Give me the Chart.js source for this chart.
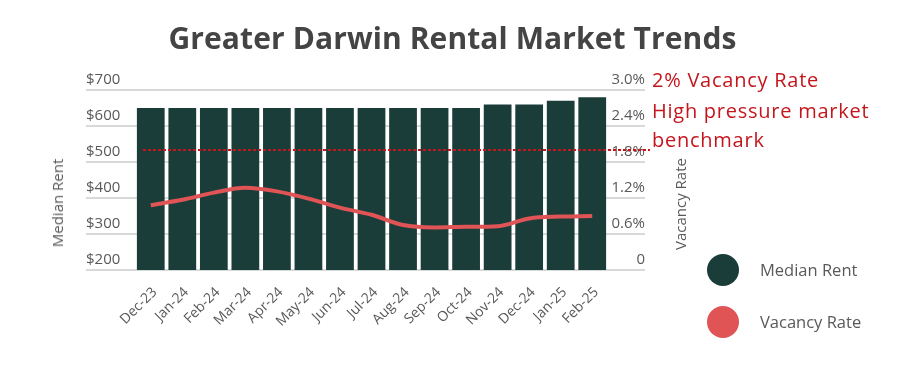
<!DOCTYPE html>
<html>
<head>
<meta charset="utf-8">
<script src="https://cdn.jsdelivr.net/npm/chart.js@4.4.1/dist/chart.umd.min.js"></script>
<style>
  html, body { margin: 0; padding: 0; background: #ffffff; }
  #wrap { position: relative; width: 915px; height: 381px; overflow: hidden; font-family: "Open Sans", sans-serif; }
  #c { position: absolute; left: 0; top: 0; }
  .abs { position: absolute; white-space: nowrap; }
  #title { left: -5px; width: 915px; top: 18px; text-align: center; font-size: 30px; font-weight: 700; color: #444444; line-height: 40px; letter-spacing: 0.1px; }
  .note { left: 652px; font-size: 20px; color: #c4161c; line-height: 28px; font-family: "Open Sans", sans-serif; letter-spacing: 0.75px; }
  .axt { font-size: 15px; color: #595959; line-height: 18px; transform-origin: center center; }
  .leg { font-size: 16.5px; color: #595959; line-height: 22px; }
  .dot { width: 32px; height: 32px; border-radius: 50%; }
</style>
</head>
<body>
<div id="wrap">
  <canvas id="c" width="915" height="381"></canvas>
  <div id="title" class="abs">Greater Darwin Rental Market Trends</div>
  <div class="abs note" style="top:66px">2% Vacancy Rate</div>
  <div class="abs note" style="top:97px">High pressure market</div>
  <div class="abs note" style="top:126px">benchmark</div>
  <div class="abs axt" style="left:57px; top:203px; transform: translate(-50%,-50%) rotate(-90deg);">Median Rent</div>
  <div class="abs axt" style="left:680px; top:204px; transform: translate(-50%,-50%) rotate(-90deg);">Vacancy Rate</div>
  <div class="abs dot" style="left:707px; top:254px; background:#1b3d3a;"></div>
  <div class="abs leg" style="left:760px; top:259px;">Median Rent</div>
  <div class="abs dot" style="left:707px; top:306px; background:#e05456;"></div>
  <div class="abs leg" style="left:760px; top:311px;">Vacancy Rate</div>
</div>
<script>
const months = ['Dec-23','Jan-24','Feb-24','Mar-24','Apr-24','May-24','Jun-24','Jul-24','Aug-24','Sep-24','Oct-24','Nov-24','Dec-24','Jan-25','Feb-25'];
const medianRent = [650,650,650,650,650,650,650,650,650,650,650,660,660,670,680];
const vacancyRate = [1.08,1.17,1.29,1.37,1.31,1.19,1.04,0.92,0.75,0.71,0.72,0.73,0.86,0.89,0.90];
const rentTicks = [200,300,400,500,600,700];
const rentTickLabels = ['$200','$300','$400','$500','$600','$700'];
const vacancyTicks = [0,0.6,1.2,1.8,2.4,3.0];
const vacancyTickLabels = ['0','0.6%','1.2%','1.8%','2.4%','3.0%'];
const benchmarkRate = 2;

const GRID_LEFT = 86, GRID_RIGHT = 645;

const gridPlugin = {
  id: 'gridPlugin',
  beforeDatasetsDraw(chart) {
    const ctx = chart.ctx, y = chart.scales.y;
    ctx.save();
    ctx.strokeStyle = '#d9d9d9';
    ctx.lineWidth = 2;
    rentTicks.forEach(v => {
      const py = Math.round(y.getPixelForValue(v));
      ctx.beginPath();
      ctx.moveTo(GRID_LEFT, py);
      ctx.lineTo(GRID_RIGHT, py);
      ctx.stroke();
    });
    ctx.restore();
  },
  afterDraw(chart) {
    const ctx = chart.ctx, y1 = chart.scales.y1;
    const py = y1.getPixelForValue(benchmarkRate);
    ctx.save();
    ctx.strokeStyle = '#c4161c';
    ctx.lineWidth = 2;
    ctx.setLineDash([3, 2]);
    ctx.beginPath();
    ctx.moveTo(chart.chartArea.left + 8, py);
    ctx.lineTo(650, py);
    ctx.stroke();
    ctx.restore();
  }
};

const tickFont = { family: '"Open Sans", sans-serif', size: 15 };

new Chart(document.getElementById('c'), {
  data: {
    labels: months,
    datasets: [
      {
        type: 'line',
        label: 'Vacancy Rate',
        data: vacancyRate,
        yAxisID: 'y1',
        borderColor: '#e05456',
        borderWidth: 4,
        pointRadius: 0,
        tension: 0.4,
        cubicInterpolationMode: 'monotone',
        order: 0
      },
      {
        type: 'bar',
        label: 'Median Rent',
        data: medianRent,
        yAxisID: 'y',
        backgroundColor: '#1b3d3a',
        barPercentage: 0.88,
        categoryPercentage: 1.0,
        order: 1
      }
    ]
  },
  options: {
    responsive: false,
    devicePixelRatio: 1,
    animation: false,
    layout: { padding: { left: 86, right: 270, top: 90, bottom: 0 } },
    plugins: { legend: { display: false }, title: { display: false }, tooltip: { enabled: false } },
    scales: {
      x: {
        offset: true,
        grid: { display: false },
        border: { display: false },
        ticks: { color: '#595959', font: { family: '"Open Sans", sans-serif', size: 14 }, minRotation: 45, maxRotation: 45, autoSkip: false, padding: 6, labelOffset: 4 },
        afterFit: s => { s.height = 111; }
      },
      y: {
        position: 'left',
        min: 200, max: 700,
        grid: { display: false },
        border: { display: false },
        afterBuildTicks: s => { s.ticks = rentTicks.map(v => ({ value: v })); },
        ticks: { color: '#595959', font: tickFont, labelOffset: -10, crossAlign: 'far', callback: (v, i) => rentTickLabels[i] },
        afterFit: s => { s.width = 49; }
      },
      y1: {
        position: 'right',
        min: 0, max: 3,
        grid: { display: false },
        border: { display: false },
        afterBuildTicks: s => { s.ticks = vacancyTicks.map(v => ({ value: v })); },
        ticks: { color: '#595959', font: tickFont, labelOffset: -10, crossAlign: 'far', callback: (v, i) => vacancyTickLabels[i] },
        afterFit: s => { s.width = 37; }
      }
    }
  },
  plugins: [gridPlugin]
});
</script>
</body>
</html>
